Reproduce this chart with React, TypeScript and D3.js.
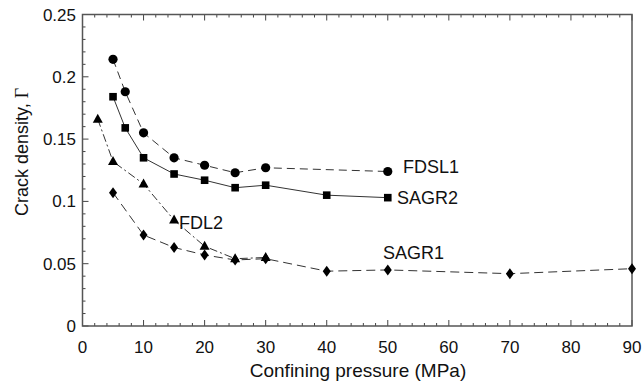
import React from "react";
import * as d3 from "d3";

const fdsl1X = [5, 7, 10, 15, 20, 25, 30, 50];
const fdsl1Y = [0.214, 0.188, 0.155, 0.135, 0.129, 0.123, 0.127, 0.124];
const sagr2X = [5, 7, 10, 15, 20, 25, 30, 40, 50];
const sagr2Y = [0.184, 0.159, 0.135, 0.122, 0.117, 0.111, 0.113, 0.105, 0.103];
const fdl2X = [2.5, 5, 10, 15, 20, 25, 30];
const fdl2Y = [0.166, 0.132, 0.114, 0.085, 0.064, 0.054, 0.055];
const sagr1X = [5, 10, 15, 20, 25, 30, 40, 50, 70, 90];
const sagr1Y = [0.107, 0.073, 0.063, 0.057, 0.053, 0.054, 0.044, 0.045, 0.042, 0.046];
const xTicks = [0, 10, 20, 30, 40, 50, 60, 70, 80, 90];
const yTicks = [0, 0.05, 0.1, 0.15, 0.2, 0.25];
const yTickLabels = ["0", "0.05", "0.1", "0.15", "0.2", "0.25"];

const W = 642, H = 385;
const L = 82.5, R = 632, T = 14.5, B = 326;

export default function App() {
  const x = d3.scaleLinear().domain([0, 90]).range([L, R]);
  const y = d3.scaleLinear().domain([0, 0.25]).range([B, T]);
  const line = d3.line<[number, number]>().x(d => x(d[0])).y(d => y(d[1]));
  const zip = (a: number[], b: number[]) => a.map((v, i) => [v, b[i]] as [number, number]);
  const font = "Liberation Sans, Arial, Helvetica, sans-serif";
  const lineColor = "#333";
  const xMinor = d3.range(0, 91, 2);
  const yMinor = d3.range(0, 26, 1).map(v => v / 100);

  const series = [
    { pts: zip(fdsl1X, fdsl1Y), dash: "8,5", marker: "circle" },
    { pts: zip(sagr2X, sagr2Y), dash: "none", marker: "square" },
    { pts: zip(fdl2X, fdl2Y), dash: "8,3,2,3", marker: "triangle" },
    { pts: zip(sagr1X, sagr1Y), dash: "9,5", marker: "diamond" },
  ];

  const marker = (m: string, px: number, py: number, k: string) => {
    if (m === "circle") return <circle key={k} cx={px} cy={py} r={4.6} fill="#000" />;
    if (m === "square") return <rect key={k} x={px - 3.8} y={py - 3.8} width={7.6} height={7.6} fill="#000" />;
    if (m === "triangle") return <path key={k} d={`M${px},${py - 5.5}L${px + 5},${py + 3.5}L${px - 5},${py + 3.5}Z`} fill="#000" />;
    return <path key={k} d={`M${px},${py - 5.5}L${px + 4},${py}L${px},${py + 5.5}L${px - 4},${py}Z`} fill="#000" />;
  };

  return (
    <svg width={W} height={H} style={{ position: "absolute", left: 0, top: 0, background: "#fff" }}>
      {xMinor.map(v => {
        const major = v % 10 === 0;
        const len = major ? 6 : 3;
        return (
          <g key={"xm" + v} stroke="#444" strokeWidth={1}>
            <line x1={x(v)} x2={x(v)} y1={B} y2={B - len} />
            <line x1={x(v)} x2={x(v)} y1={T} y2={T + len} />
          </g>
        );
      })}
      {yMinor.map((v, i) => {
        const major = i % 5 === 0;
        const len = major ? 6 : 3;
        return (
          <g key={"ym" + i} stroke="#444" strokeWidth={1}>
            <line x1={L} x2={L + len} y1={y(v)} y2={y(v)} />
          </g>
        );
      })}
      <rect x={L} y={T} width={R - L} height={B - T} fill="none" stroke="#555" strokeWidth={1.5} />
      {xTicks.map(v => (
        <text key={"xt" + v} x={x(v)} y={353} textAnchor="middle" fontFamily={font} fontSize={17} fill="#111">{v}</text>
      ))}
      {yTicks.map((v, i) => (
        <text key={"yt" + v} x={76} y={y(v) + 6} textAnchor="end" fontFamily={font} fontSize={17} fill="#111">{yTickLabels[i]}</text>
      ))}
      <text x={358} y={377} textAnchor="middle" fontFamily={font} fontSize={19} fill="#111">Confining pressure (MPa)</text>
      <text transform={`translate(28,152) rotate(-90)`} textAnchor="middle" fontFamily={font} fontSize={18} fill="#111">
        Crack density, <tspan fontFamily="Liberation Serif, Times New Roman, serif">Γ</tspan>
      </text>
      {series.map((s, si) => (
        <g key={"s" + si}>
          <path d={line(s.pts) || ""} fill="none" stroke={lineColor} strokeWidth={1} strokeDasharray={s.dash} />
          {s.pts.map((p, i) => marker(s.marker, x(p[0]), y(p[1]), `m${si}-${i}`))}
        </g>
      ))}
      <text x={403} y={173} fontFamily={font} fontSize={18} fill="#111">FDSL1</text>
      <text x={397} y={204} fontFamily={font} fontSize={18} fill="#111">SAGR2</text>
      <text x={179} y={229} fontFamily={font} fontSize={18} fill="#111">FDL2</text>
      <text x={383} y={259} fontFamily={font} fontSize={18} fill="#111">SAGR1</text>
    </svg>
  );
}
